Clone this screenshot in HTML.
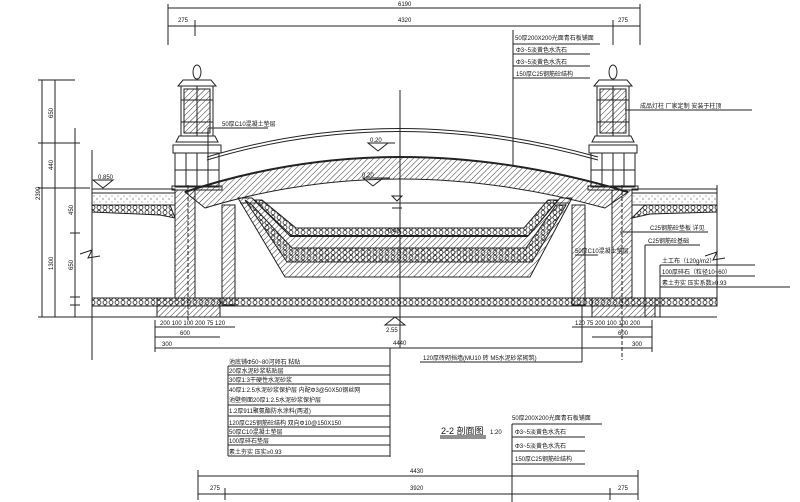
<!DOCTYPE html>
<html><head><meta charset="utf-8"><style>
html,body{margin:0;padding:0;background:#fff;}
svg{display:block;}
text{font-family:"Liberation Sans","Noto Sans CJK SC",sans-serif;fill:#111;}
</style></head><body>
<svg width="800" height="502" viewBox="0 0 800 502" xmlns="http://www.w3.org/2000/svg">
<defs>
<pattern id="h" width="4" height="4" patternUnits="userSpaceOnUse" patternTransform="rotate(45)"><line x1="0" y1="0" x2="0" y2="4" stroke="#222" stroke-width="0.9"/></pattern>
<pattern id="g" width="6" height="5" patternUnits="userSpaceOnUse"><circle cx="3" cy="2.5" r="2" fill="none" stroke="#222" stroke-width="0.8"/></pattern>
<pattern id="d" width="6" height="6" patternUnits="userSpaceOnUse"><circle cx="1" cy="1" r="0.6" fill="#444"/><circle cx="4" cy="4" r="0.5" fill="#444"/></pattern>
</defs>
<g stroke="#222" stroke-width="1" fill="none">
<line x1="168" y1="8" x2="640" y2="8"/><line x1="168" y1="26" x2="640" y2="26"/>
<line x1="168" y1="4" x2="168" y2="45"/><line x1="640" y1="4" x2="640" y2="45"/>
<line x1="195" y1="20" x2="195" y2="36"/><line x1="613" y1="20" x2="613" y2="45"/>
<line x1="42" y1="80" x2="42" y2="317"/><line x1="55" y1="80" x2="55" y2="317"/><line x1="75" y1="128" x2="75" y2="317"/>
<line x1="38" y1="80" x2="75" y2="80"/><line x1="38" y1="143" x2="80" y2="143"/><line x1="38" y1="188" x2="90" y2="188"/>
<line x1="70" y1="233" x2="80" y2="233"/><line x1="70" y1="297" x2="80" y2="297"/><line x1="70" y1="305" x2="80" y2="305"/><line x1="38" y1="317" x2="92" y2="317"/>
<line x1="92" y1="150" x2="92" y2="360"/><polyline points="80,254 92,250 88,258 100,256"/>
<line x1="717" y1="185" x2="717" y2="300"/><polyline points="705,256 717,252 713,260 725,258"/>
<rect x="92" y="189" width="83" height="4" fill="#fff"/>
<rect x="632" y="189" width="85" height="4"/>
<rect x="92" y="193" width="83" height="12" fill="url(#d)"/>
<path d="M92 205 L170 205 L175 218 L160 215 L92 212Z" fill="url(#g)"/>
<rect x="632" y="193" width="85" height="12" fill="url(#d)"/>
<path d="M717 205 L645 205 L632 218 L650 214 L717 212Z" fill="url(#g)"/>
<rect x="92" y="298" width="625" height="8" fill="url(#g)"/>
<line x1="92" y1="317" x2="717" y2="317"/>
<path d="M175 190 L195 190 L195 298 L220 298 L220 317 L157 317 L157 298 L175 298Z" fill="url(#h)"/>
<rect x="222" y="205" width="13" height="100" fill="url(#h)"/>
<path d="M612 190 L632 190 L632 298 L655 298 L655 317 L592 317 L592 298 L612 298Z" fill="url(#h)"/>
<rect x="572" y="205" width="13" height="100" fill="url(#h)"/>
<line x1="188" y1="185" x2="188" y2="320" stroke-dasharray="4,2"/>
<line x1="622" y1="185" x2="622" y2="360" stroke-dasharray="4,2"/>
<path d="M185 192 Q395 122 628 192 L605 208 Q395 150 205 208Z" fill="url(#h)"/>
<path d="M185 192 Q395 122 628 192" stroke-width="2"/>
<path d="M207 157 Q395 100 598 157"/><path d="M207 160 Q395 103 598 160"/>
<!-- channel -->
<path d="M238 198 L285 277 L530 277 L572 198 L560 198 L528 236 L290 236 L252 198Z" fill="url(#h)"/>
<path d="M245 200 L287 262 L532 262 L566 205 L556 205 L526 248 L292 248 L252 205Z" fill="url(#g)"/>
<path d="M254 200 L292 236 L528 236 L558 200 L548 200 L524 228 L296 228 L262 200Z" fill="url(#g)"/>
<line x1="290" y1="236" x2="528" y2="236" stroke-width="2"/>
<line x1="240" y1="203" x2="570" y2="203"/>
<path d="M392 196 L402 196 L397 201Z"/><line x1="392" y1="208" x2="402" y2="208"/>
<g id="lamp">
<ellipse cx="197" cy="72" rx="4" ry="7"/>
<path d="M183 80 L211 80 L216 86 L178 86Z"/>
<rect x="181" y="86" width="32" height="50"/>
<rect x="184" y="89" width="26" height="44" fill="url(#h)"/>
<line x1="197" y1="86" x2="197" y2="136"/><line x1="181" y1="100" x2="213" y2="100"/><line x1="181" y1="122" x2="213" y2="122"/>
<path d="M179 136 L215 136 L218 142 L176 142Z"/>
<rect x="173" y="145" width="48" height="8"/><rect x="175" y="153" width="44" height="34"/>
<line x1="186" y1="153" x2="186" y2="187"/><line x1="197" y1="153" x2="197" y2="187"/><line x1="208" y1="153" x2="208" y2="187"/>
<line x1="175" y1="170" x2="219" y2="170"/><rect x="172" y="186" width="50" height="4"/>
</g>
<use href="#lamp" x="416"/>
<line x1="513" y1="30" x2="513" y2="165"/>
<polyline points="513,44 600,44"/><line x1="513" y1="54" x2="590" y2="54"/><line x1="513" y1="66" x2="590" y2="66"/><line x1="513" y1="78" x2="590" y2="78"/>
<line x1="208" y1="128" x2="208" y2="160"/><line x1="208" y1="128" x2="268" y2="128"/>
<line x1="625" y1="110" x2="752" y2="110"/>
<line x1="400" y1="90" x2="400" y2="348"/>
<line x1="620" y1="232" x2="708" y2="232"/><line x1="645" y1="245" x2="700" y2="245"/><line x1="645" y1="245" x2="645" y2="317"/>
<line x1="660" y1="265" x2="755" y2="265"/><line x1="660" y1="276" x2="755" y2="276"/><line x1="660" y1="287" x2="790" y2="287"/><line x1="660" y1="265" x2="660" y2="317"/>
<line x1="575" y1="255" x2="598" y2="255"/>
<path d="M373 186 L383 178 L363 178Z"/><path d="M378 151 L388 143 L368 143Z"/><path d="M103 188 L113 180 L93 180Z"/>
<line x1="363" y1="178" x2="390" y2="178"/><line x1="368" y1="143" x2="395" y2="143"/>
<path d="M395 317 L385 325 L405 325Z"/>
<line x1="155" y1="327" x2="235" y2="327"/><line x1="155" y1="337" x2="220" y2="337"/><line x1="155" y1="348" x2="652" y2="348"/>
<line x1="572" y1="327" x2="652" y2="327"/><line x1="592" y1="337" x2="652" y2="337"/>
<line x1="155" y1="320" x2="155" y2="352"/><line x1="652" y1="320" x2="652" y2="352"/>
<line x1="390" y1="348" x2="390" y2="457"/><line x1="582" y1="305" x2="582" y2="362"/><line x1="582" y1="362" x2="420" y2="362"/>
<line x1="228" y1="366" x2="390" y2="366"/><line x1="228" y1="375" x2="390" y2="375"/><line x1="228" y1="384" x2="390" y2="384"/>
<line x1="228" y1="405" x2="390" y2="405"/><line x1="228" y1="416" x2="390" y2="416"/><line x1="228" y1="427" x2="390" y2="427"/>
<line x1="228" y1="436" x2="390" y2="436"/><line x1="228" y1="445" x2="390" y2="445"/><line x1="228" y1="456" x2="390" y2="456"/>
<line x1="228" y1="366" x2="228" y2="456"/>
<line x1="440" y1="436" x2="486" y2="436"/><line x1="440" y1="438" x2="486" y2="438"/>
<line x1="512" y1="424" x2="602" y2="424"/><line x1="512" y1="437" x2="585" y2="437"/><line x1="512" y1="451" x2="585" y2="451"/><line x1="512" y1="464" x2="585" y2="464"/>
<line x1="512" y1="424" x2="512" y2="502"/>
<line x1="198" y1="476" x2="638" y2="476"/><line x1="198" y1="494" x2="638" y2="494"/>
<line x1="198" y1="470" x2="198" y2="500"/><line x1="638" y1="470" x2="638" y2="500"/>
<line x1="225" y1="488" x2="225" y2="500"/><line x1="610" y1="488" x2="610" y2="500"/>
</g>
<g font-size="6">
<text x="398" y="6">6190</text><text x="178" y="22">275</text><text x="398" y="22">4320</text><text x="618" y="22">275</text>
<text x="515" y="40">50厚200X200光面青石板铺面</text>
<text x="516" y="52">Φ3~5淡黄色水洗石</text><text x="516" y="64">Φ3~5淡黄色水洗石</text><text x="516" y="76">150厚C25钢筋砼结构</text>
<text x="222" y="126">50厚C10混凝土垫层</text>
<text x="640" y="108">成品灯柱 厂家定制 安装于柱顶</text>
<text x="370" y="142">0.20</text><text x="362" y="177">0.20</text><text x="98" y="179">0.850</text><text x="388" y="233">0.40</text><text x="386" y="332">2.55</text>
<text x="575" y="253">50厚C10混凝土垫层</text>
<text x="650" y="230">C25钢筋砼垫板 详见</text><text x="648" y="243">C25钢筋砼基础</text>
<text x="662" y="263">土工布（120g/m2）</text><text x="662" y="274">100厚碎石（粒径10~60）</text><text x="662" y="285">素土夯实 压实系数≥0.93</text>
<text x="393" y="345">4440</text>
<text x="423" y="360">120厚砖砌挡墙(MU10 砖 M5水泥砂浆砌筑)</text>
<text x="229" y="364">池底铺Φ50~80河卵石 粘贴</text><text x="229" y="373">20厚水泥砂浆粘贴层</text><text x="229" y="382">30厚1:3干硬性水泥砂浆</text>
<text x="229" y="392">40厚1:2.5水泥砂浆保护层 内配Φ3@50X50钢丝网</text><text x="229" y="402">池壁侧面20厚1:2.5水泥砂浆保护层</text>
<text x="229" y="413">1.2厚911聚氨酯防水涂料(两道)</text><text x="229" y="425">120厚C25钢筋砼结构 双向Φ10@150X150</text>
<text x="229" y="434">50厚C10混凝土垫层</text><text x="229" y="443">100厚碎石垫层</text><text x="229" y="454">素土夯实 压实≥0.93</text>
<text x="441" y="434" font-size="9">2-2 剖面图</text><text x="490" y="434">1:20</text>
<text x="512" y="420">50厚200X200光面青石板铺面</text><text x="515" y="434">Φ3~5淡黄色水洗石</text>
<text x="515" y="448">Φ3~5淡黄色水洗石</text><text x="515" y="461">150厚C25钢筋砼结构</text>
<text x="410" y="473">4430</text><text x="210" y="490">275</text><text x="410" y="490">3920</text><text x="618" y="490">275</text>
<text x="160" y="325">200 100 100 200 75 120</text><text x="575" y="325">120 75 200 100 100 200</text>
<text x="180" y="335">600</text><text x="162" y="346">300</text><text x="618" y="335">600</text><text x="632" y="346">300</text>
<text transform="translate(40 200) rotate(-90)">2390</text>
<text transform="translate(53 118) rotate(-90)">650</text><text transform="translate(53 170) rotate(-90)">440</text>
<text transform="translate(53 270) rotate(-90)">1300</text><text transform="translate(73 215) rotate(-90)">450</text><text transform="translate(73 270) rotate(-90)">650</text>
</g>
</svg>
</body></html>
